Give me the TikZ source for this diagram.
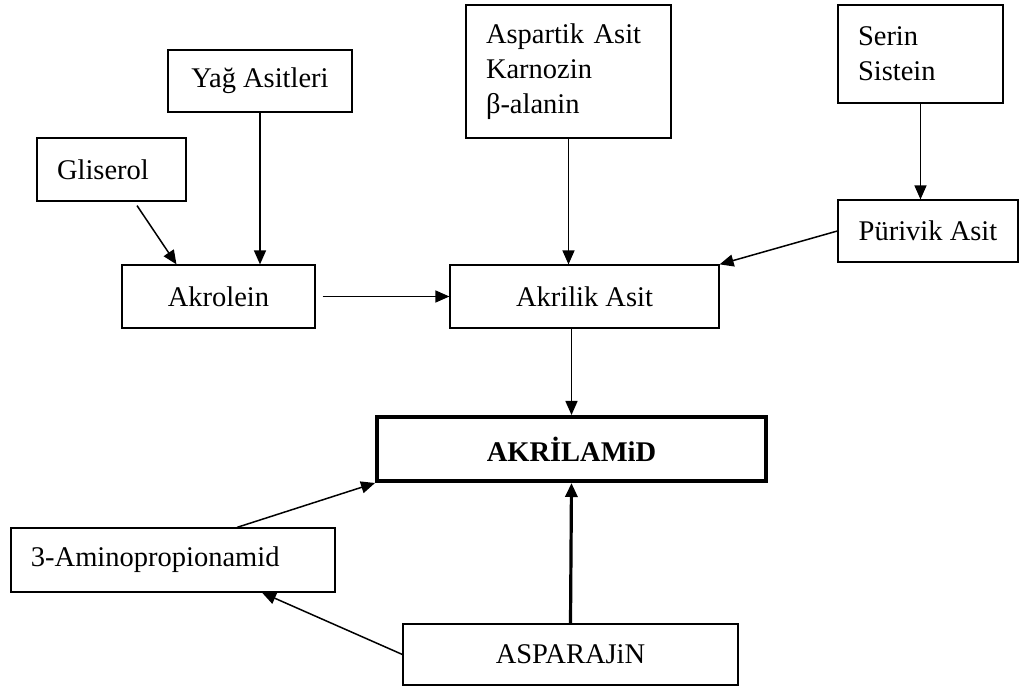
\documentclass[tikz,border=0pt]{standalone}
\usepackage{fontspec}
\setmainfont{Liberation Serif}
\usetikzlibrary{arrows.meta}

\tikzset{
	kutu/.style={draw, line width=0.6pt, inner sep=0pt, font=\fontsize{14.25}{17.5}\selectfont},
	solkutu/.style={kutu, align=left, inner xsep=10pt},
}

\begin{document}
\begin{tikzpicture}[x=0.5pt, y=-0.5pt, >={Triangle[length=7pt,width=6pt]}, line width=0.75pt]
	\useasboundingbox (0,0) rectangle (1019,688);
	
	%boxes
	\node[solkutu, text width=54.5pt, minimum height=31.5pt] (gliserol) at (111.5,169.5) {Gliserol};
	\node[kutu, minimum width=92pt, minimum height=31pt] (yag) at (260,81) {Yağ Asitleri};
	\node[solkutu, text width=82.5pt, minimum height=66.5pt] (aspartik) at (568.5,71.5) {Aspartik Asit\\Karnozin\\β-alanin};
	\node[solkutu, text width=62.5pt, minimum height=49pt] (serin) at (920.5,54) {Serin\\Sistein};
	\node[kutu, minimum width=90pt, minimum height=31pt] (purivik) at (928,231) {Pürivik Asit};
	\node[kutu, minimum width=96.5pt, minimum height=31.5pt] (akrolein) at (218.5,296.5) {Akrolein};
	\node[kutu, minimum width=134.5pt, minimum height=31.5pt] (akrilik) at (584.5,296.5) {Akrilik Asit};
	\node[kutu, line width=2pt, minimum width=194.5pt, minimum height=32pt, font=\fontsize{14.25}{18}\selectfont\bfseries] (akrilamid) at (571.5,449) {AKRİLAMiD};
	\node[solkutu, text width=142pt, minimum height=32pt] (amino) at (173,560) {3-Aminopropionamid};
	\node[kutu, minimum width=167.5pt, minimum height=30.5pt] (asparajin) at (570.5,654.5) {ASPARAJiN};
	
	%arrows
	\draw[->] ([xshift=12.75pt,yshift=-2pt]gliserol.south) -- ([xshift=-21pt]akrolein.north);
	\draw[->] (yag.south) -- (yag.south |- akrolein.north);
	\draw[->] ([xshift=3.5pt]akrolein.east) -- (akrilik.west);
	\draw[->] (aspartik.south) -- (aspartik.south |- akrilik.north);
	\draw[->] (serin.south) -- (serin.south |- purivik.north);
	\draw[->] (purivik.west) -- (akrilik.north east);
	\draw[->] (akrilamid.north |- akrilik.south) -- (akrilamid.north);
	\draw[->] ([xshift=32pt]amino.north) -- (akrilamid.south west);
	\draw[->, line width=1.6pt] (asparajin.north) -- (akrilamid.south);
	\draw[->] (asparajin.west) -- ([xshift=44.5pt]amino.south);
	%\draw[help lines] (0,0) grid (1019,688);
\end{tikzpicture}
\end{document}
